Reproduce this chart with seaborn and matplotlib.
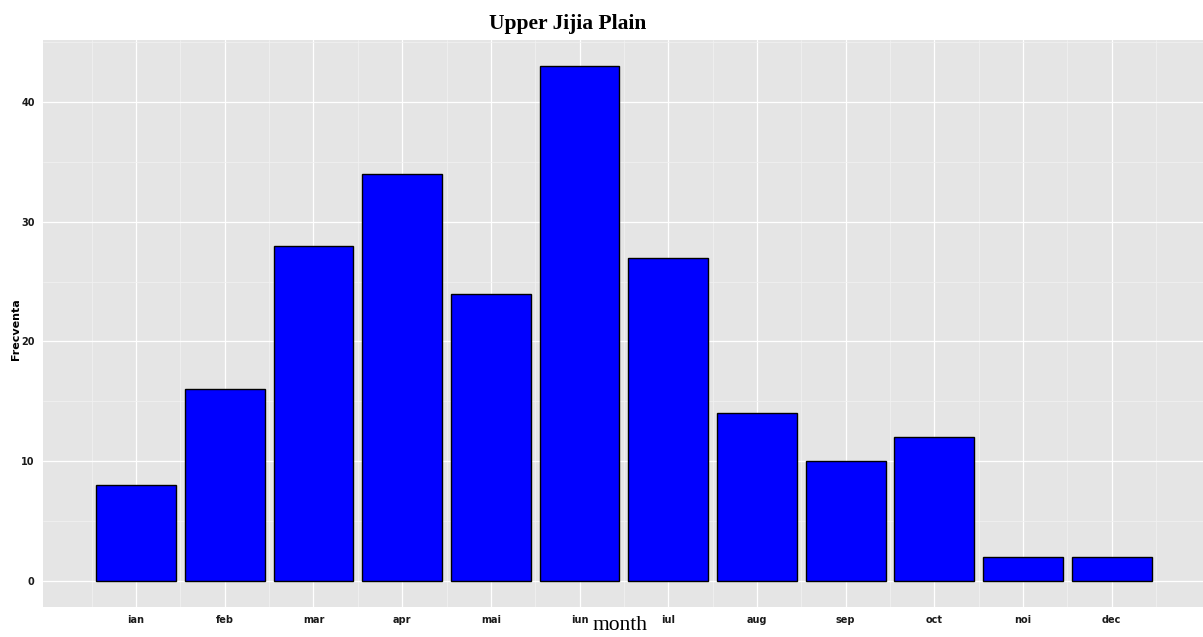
import numpy as np
import pandas as pd
import matplotlib
matplotlib.use("Agg")
import matplotlib.pyplot as plt
from matplotlib.ticker import MultipleLocator
import seaborn as sns

# monthly frequency, Upper Jijia Plain
months = ["ian", "feb", "mar", "apr", "mai", "iun", "iul", "aug", "sep", "oct", "noi", "dec"]
counts = [8, 16, 28, 34, 24, 43, 27, 14, 10, 12, 2, 2]

df = pd.DataFrame({"month": months, "Frecventa": counts})

sns.set_style("darkgrid")
fig = plt.figure(figsize=(12.03, 6.37), dpi=100)
ax = fig.add_axes([43/1203, 1 - 607/637, 1160/1203, 567/637])
ax.set_facecolor("#E5E5E5")

sns.barplot(data=df, x="month", y="Frecventa", order=months, color="#0000FF",
            saturation=1, edgecolor="black", linewidth=1.0, width=0.9, ax=ax, zorder=3)

ax.yaxis.set_major_locator(MultipleLocator(10))
ax.yaxis.set_minor_locator(MultipleLocator(5))
ax.set_xticks(np.arange(len(months)))
ax.set_xticks(np.arange(-1.5, 12.5, 1), minor=True)
# limits after the ticks, set_ticks would widen them
ax.set_xlim(-1.05, 12.03)
ax.set_ylim(-2.15, 45.15)
ax.grid(which="major", color="white", linewidth=0.9, zorder=0)
ax.grid(which="minor", color="#F2F2F2", linewidth=0.5, zorder=0)
ax.set_axisbelow(True)
for s in ax.spines.values():
    s.set_visible(False)

ax.tick_params(axis="both", which="major", length=3, color="#888888", width=0.8,
               labelsize=7, labelcolor="#1a1a1a", pad=3)
ax.tick_params(axis="both", which="minor", length=0)
for lab in ax.get_xticklabels() + ax.get_yticklabels():
    lab.set_fontweight("bold")

ax.set_xlabel("month", family="Liberation Serif", fontsize=15.5, va="center", color="black")
ax.xaxis.set_label_coords(0.497, -0.033)
ax.set_ylabel("Frecventa", fontsize=8, fontweight="bold", color="black")
ax.yaxis.set_label_coords(-0.019, 0.49)
ax.set_title("Upper Jijia Plain", family="Liberation Serif", fontweight="bold",
             fontsize=15.5, x=0.4526, y=1.014, va="center", color="black")

fig.savefig("out.png", dpi=100)
